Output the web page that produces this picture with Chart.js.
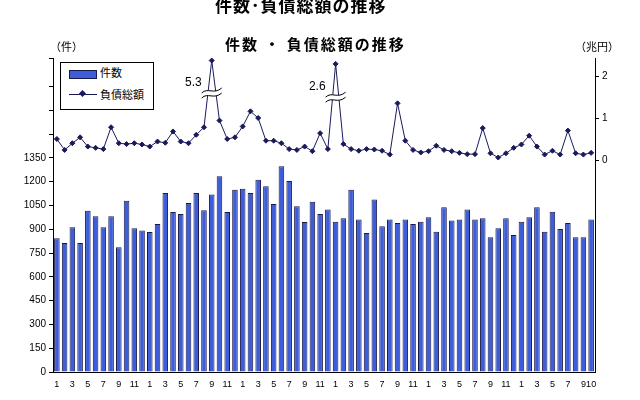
<!DOCTYPE html>
<html>
<head>
<meta charset="utf-8">
<script src="https://cdn.jsdelivr.net/npm/chart.js@4"></script>
<style>
  body { margin: 0; background: #fff; font-family: "Noto Sans CJK JP", sans-serif; }
  #wrap { position: relative; width: 640px; height: 400px; }
  .t { position: absolute; color: #000; white-space: nowrap; }
  #legend { position: absolute; left: 60px; top: 62px; width: 92px; height: 46px; border: 1px solid #000; background: #fff; font-size: 11px; }
</style>
</head>
<body>
<div id="wrap">
  <canvas id="c" width="640" height="400"></canvas>
  <div class="t" style="left:215px;top:-8px;font-size:17px;font-weight:bold;letter-spacing:1px;">件数･負債総額の推移</div>
  <div class="t" style="left:225px;top:33px;font-size:15px;font-weight:bold;letter-spacing:2px;">件数 ・ 負債総額の推移</div>
  <div class="t" style="left:50px;top:38px;font-size:11px;">（件）</div>
  <div class="t" style="left:575px;top:38px;font-size:11px;">（兆円）</div>
  <div id="legend">
    <div style="position:absolute;left:8px;top:7px;width:26px;height:7px;background:#3d5ed8;border:1px solid #1a1a4a;"></div>
    <div style="position:absolute;left:39px;top:1px;">件数</div>
    <div style="position:absolute;left:8px;top:31px;width:28px;height:1px;background:#1a1a5a;"></div>
    <div style="position:absolute;left:19px;top:28px;width:5px;height:5px;background:#1a1a5a;transform:rotate(45deg);"></div>
    <div style="position:absolute;left:39px;top:23px;">負債総額</div>
  </div>
</div>
<script>
// months: Jan year1 .. Oct year6
const months = [];
for (let y = 0; y < 6; y++) for (let m = 1; m <= 12; m++) if (months.length < 70) months.push(String(m));

const counts = [843, 814, 913, 814, 1017, 982, 913, 982, 787, 1080, 906, 892,
  883, 934, 1129, 1009, 997, 1066, 1129, 1020, 1120, 1234, 1009, 1150,
  1156, 1129, 1213, 1171, 1060, 1297, 1204, 1045, 946, 1074, 997, 1024,
  948, 969, 1150, 961, 877, 1087, 919, 961, 940, 961, 934, 948,
  976, 885, 1039, 955, 961, 1024, 961, 969, 850, 906, 969, 864,
  948, 976, 1039, 885, 1011, 902, 940, 850, 850, 961];

// debt totals (trillion yen); the two spikes are drawn clipped with a break mark
const debt = [0.50, 0.24, 0.40, 0.54, 0.32, 0.29, 0.26, 0.78, 0.40, 0.38, 0.40, 0.37,
  0.32, 0.44, 0.41, 0.68, 0.44, 0.40, 0.60, 0.78, 2.37, 0.94, 0.50, 0.54,
  0.80, 1.16, 1.00, 0.46, 0.46, 0.40, 0.26, 0.24, 0.32, 0.21, 0.64, 0.26,
  2.29, 0.38, 0.26, 0.22, 0.26, 0.25, 0.22, 0.13, 1.35, 0.46, 0.24, 0.18,
  0.21, 0.34, 0.24, 0.21, 0.17, 0.14, 0.14, 0.76, 0.16, 0.06, 0.16, 0.29,
  0.37, 0.58, 0.32, 0.13, 0.22, 0.13, 0.70, 0.16, 0.13, 0.17];

const breaks = [{ i: 20, label: '5.3', v: 1.62 }, { i: 36, label: '2.6', v: 1.52 }];

const breakPlugin = {
  id: 'breaks',
  afterDatasetsDraw(chart) {
    const ctx = chart.ctx, xs = chart.scales.x, yr = chart.scales.y2;
    ctx.save();
    breaks.forEach(b => {
      const x = xs.getPixelForValue(b.i), y = yr.getPixelForValue(b.v);
      ctx.fillStyle = '#fff';
      ctx.beginPath();
      ctx.moveTo(x - 10, y + 1);
      ctx.bezierCurveTo(x - 4, y - 5, x + 2, y + 3, x + 10, y - 4);
      ctx.lineTo(x + 10, y + 1);
      ctx.bezierCurveTo(x + 2, y + 8, x - 4, y, x - 10, y + 6);
      ctx.closePath();
      ctx.fill();
      ctx.strokeStyle = '#000';
      ctx.lineWidth = 1;
      ctx.beginPath();
      ctx.moveTo(x - 10, y + 1);
      ctx.bezierCurveTo(x - 4, y - 5, x + 2, y + 3, x + 10, y - 4);
      ctx.moveTo(x - 10, y + 6);
      ctx.bezierCurveTo(x - 4, y, x + 2, y + 8, x + 10, y + 1);
      ctx.stroke();
      ctx.fillStyle = '#000';
      ctx.font = '12px "Liberation Sans", Arial';
      ctx.textAlign = 'right';
      ctx.fillText(b.label, x - 10, y - 6);
    });
    ctx.restore();
  }
};

const tickFont = { family: '"Liberation Sans", Arial', size: 10 };

new Chart(document.getElementById('c'), {
  data: {
    labels: months,
    datasets: [{
      type: 'line',
      data: debt,
      yAxisID: 'y2',
      borderColor: '#1a1a5a',
      backgroundColor: '#1a1a5a',
      borderWidth: 1,
      pointStyle: 'rectRot',
      pointRadius: 2.5,
      tension: 0
    }, {
      type: 'bar',
      data: counts,
      yAxisID: 'y',
      backgroundColor: '#3d5ed8',
      borderColor: '#1a1a4a',
      borderWidth: 1,
      categoryPercentage: 0.72,
      barPercentage: 1
    }]
  },
  options: {
    responsive: false,
    animation: false,
    layout: { padding: { top: 58, bottom: 0 } },
    plugins: { legend: { display: false }, tooltip: { enabled: false } },
    scales: {
      x: {
        grid: { display: false, drawTicks: true, tickLength: 4 },
        border: { color: '#000' },
        ticks: {
          autoSkip: false, maxRotation: 0, font: { family: '"Liberation Sans", Arial', size: 9 }, color: '#000',
          callback: (v, i) => (i % 2 === 0 || i === months.length - 1) ? months[i] : ''
        },
        afterFit: s => { s.height = 28; }
      },
      y: {
        position: 'left',
        min: 0, max: 1980,
        grid: { drawOnChartArea: false, tickLength: 4, color: '#000' },
        border: { color: '#000' },
        ticks: {
          stepSize: 150, font: tickFont, color: '#000',
          callback: v => v <= 1350 ? v : ''
        },
        afterFit: s => { s.width = 53; }
      },
      y2: {
        position: 'right',
        min: -5.05, max: 2.43,
        grid: { drawOnChartArea: false, tickLength: 4, color: '#000' },
        border: { color: '#000' },
        afterBuildTicks: s => { s.ticks = [{ value: 0 }, { value: 1 }, { value: 2 }]; },
        ticks: { font: tickFont, color: '#000' },
        afterFit: s => { s.width = 45; }
      }
    }
  },
  plugins: [breakPlugin]
});
</script>
</body>
</html>
